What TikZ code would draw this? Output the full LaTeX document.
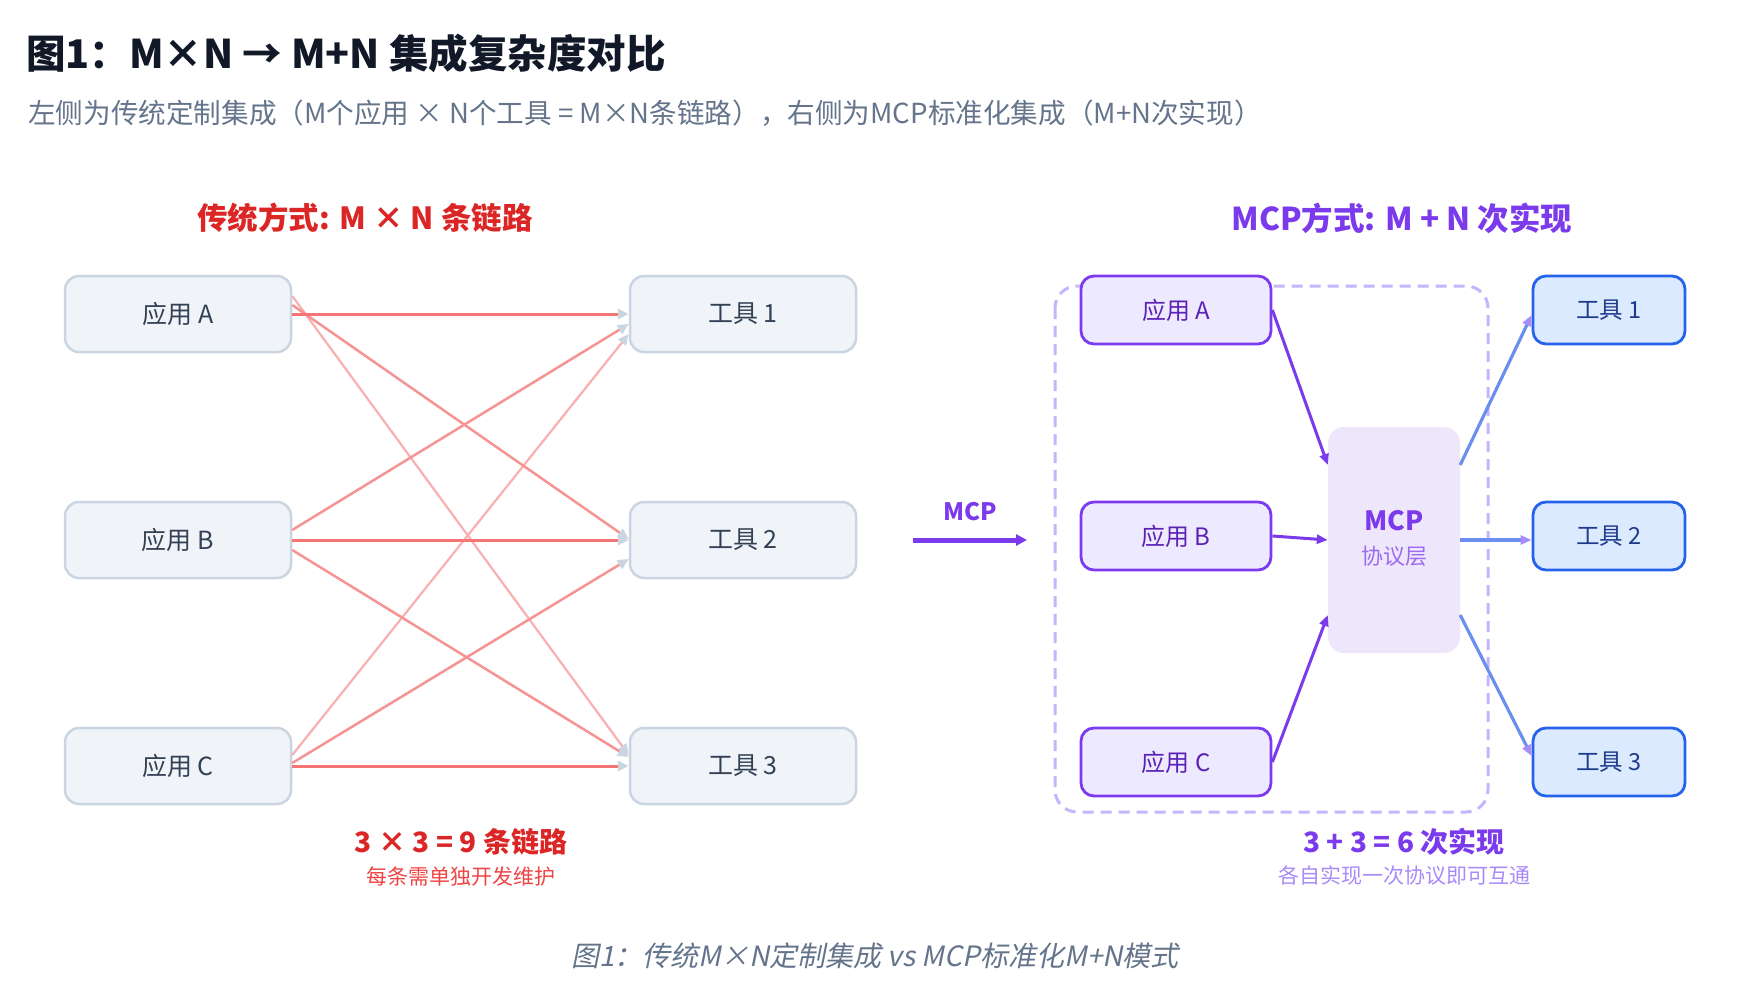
\documentclass[tikz,border=0pt]{standalone}
\usepackage{fontspec}
\setmainfont{Noto Sans CJK SC}[AutoFakeSlant=0.2]
\usetikzlibrary{arrows.meta,calc}
\definecolor{titlec}{HTML}{111827}
\definecolor{subc}{HTML}{64748B}
\definecolor{redh}{HTML}{DC2626}
\definecolor{redl}{HTML}{EF4444}
\definecolor{purp}{HTML}{7C3AED}
\definecolor{purpl}{HTML}{A78BFA}
\definecolor{purpd}{HTML}{C4B5FD}
\definecolor{purpf}{HTML}{EDE9FE}
\definecolor{mcpf}{HTML}{EEE6FB}
\definecolor{bluef}{HTML}{DBEAFE}
\definecolor{blueb}{HTML}{2563EB}
\definecolor{bluet}{HTML}{1E3A8A}
\definecolor{bluel}{HTML}{6A8FEE}
\definecolor{grayf}{HTML}{F0F4F9}
\definecolor{grayb}{HTML}{CBD5E1}
\definecolor{grayt}{HTML}{334155}
\definecolor{purpt}{HTML}{5B21B6}
\tikzset{
  fs/.style={font=\fontsize{#1}{#1}\selectfont},
  oldbox/.style={draw=grayb, fill=grayf, line width=2.5pt, rounded corners=14pt,
    minimum width=226pt, minimum height=76pt, inner sep=0pt, text=grayt, fs=25},
  appbox/.style={draw=purp, fill=purpf, line width=2.8pt, rounded corners=13pt,
    minimum width=190pt, minimum height=68pt, inner sep=0pt, text=purpt, fs=24},
  toolbox/.style={draw=blueb, fill=bluef, line width=2.8pt, rounded corners=13pt,
    minimum width=152pt, minimum height=68pt, inner sep=0pt, text=bluet, fs=23.5},
  gtip/.style={-{Triangle[length=11pt,width=10pt,color=grayb]}},
  lnA/.style={gtip, draw=redl!74!white, line width=3pt},
  lnB/.style={gtip, draw=redl!58!white, line width=2.5pt},
  lnC/.style={gtip, draw=redl!42!white, line width=2.2pt},
  parr/.style={draw=purp, line width=3pt, -{Triangle[length=11pt,width=9pt]}},
  barr/.style={draw=bluel, line width=3.2pt, -{Triangle[length=11pt,width=9pt,color=purpl]}},
}
\begin{document}
\begin{tikzpicture}[x=1pt,y=-1pt]
\useasboundingbox[fill=white] (0,0) rectangle (1746,1006);

% titles
\node[anchor=west, text=titlec, fs=39.5, inner sep=0pt] (title) at (26,53) {\bfseries 图1：M×N → M+N 集成复杂度对比};
\node[anchor=west, text=subc, fs=27.6, inner sep=0pt] (sub) at (28,113) {左侧为传统定制集成（M个应用 × N个工具 = M×N条链路），右侧为MCP标准化集成（M+N次实现）};

\node[text=redh, fs=30.5] (lhead) at (365,218) {\bfseries 传统方式: M × N 条链路};
\node[text=purp, fs=31.5] (rhead) at (1402,218) {\bfseries MCP方式: M + N 次实现};

% left boxes
\node[oldbox] (a1) at (178,314) {应用 A};
\node[oldbox] (a2) at (178,540) {应用 B};
\node[oldbox] (a3) at (178,766) {应用 C};
\node[oldbox] (t1) at (743,314) {工具 1};
\node[oldbox] (t2) at (743,540) {工具 2};
\node[oldbox] (t3) at (743,766) {工具 3};

% left connectors
\draw[lnC] ($(a1.east)+(0,-18)$) -- ($(t3.west)+(0,-11)$);
\draw[lnC] ($(a3.east)+(0,-11)$) -- ($(t1.west)+(0,20)$);
\draw[lnB] ($(a1.east)+(0,-9)$) -- ($(t2.west)+(0,-1)$);
\draw[lnB] ($(a2.east)+(0,-10)$) -- ($(t1.west)+(0,10)$);
\draw[lnB] ($(a2.east)+(0,10)$) -- ($(t3.west)+(0,-9)$);
\draw[lnB] ($(a3.east)+(0,-3)$) -- ($(t2.west)+(0,19)$);
\draw[lnA] (a1.east) -- (t1.west);
\draw[lnA] (a2.east) -- (t2.west);
\draw[lnA] (a3.east) -- (t3.west);

\node[text=redh, fs=28] (lsum) at (461,842) {\bfseries 3 × 3 = 9 条链路};
\node[text=redl, fs=21] (lsub) at (461,876) {每条需单独开发维护};

% middle arrow
\node[text=purp, fs=24] (mcplab) at (970,512) {\bfseries MCP};
\coordinate (m1) at (913,540);
\coordinate (m2) at (1027,540);
\draw[draw=purp, line width=5pt, -{Triangle[length=11pt,width=11pt]}] (m1) -- (m2);

% right side
\draw[draw=purpd, line width=3pt, dash pattern=on 11pt off 7pt, rounded corners=22pt] (1055,286) rectangle (1488,812);
\node[fill=mcpf, rounded corners=16pt, minimum width=132pt, minimum height=226pt, inner sep=0pt] (mcp) at (1394,540) {};
\node[text=purp, fs=26.5] (mcpt) at (1394,521) {\bfseries MCP};
\node[text=purp!75!white, fs=22] (mcps) at (1394,556) {协议层};

\node[appbox] (b1) at (1176,310) {应用 A};
\node[appbox] (b2) at (1176,536) {应用 B};
\node[appbox] (b3) at (1176,762) {应用 C};
\node[toolbox] (u1) at (1609,310) {工具 1};
\node[toolbox] (u2) at (1609,536) {工具 2};
\node[toolbox] (u3) at (1609,762) {工具 3};

\draw[parr] (b1.east) -- ($(mcp.west)+(0,-75)$);
\draw[parr] (b2.east) -- ($(mcp.west)+(0,0)$);
\draw[parr] (b3.east) -- ($(mcp.west)+(0,75)$);
\draw[barr] ($(mcp.east)+(0,-75)$) -- ($(u1.west)+(0,5)$);
\draw[barr] ($(mcp.east)+(0,0)$) -- ($(u2.west)+(0,4)$);
\draw[barr] ($(mcp.east)+(0,75)$) -- ($(u3.west)+(0,-6)$);

\node[text=purp, fs=28] (rsum) at (1404,842) {\bfseries 3 + 3 = 6 次实现};
\node[text=purpl, fs=21] (rsub) at (1404,876) {各自实现一次协议即可互通};

\node[text=subc, fs=28] (cap) at (875,956) {\itshape 图1：传统M×N定制集成 vs MCP标准化M+N模式};
\end{tikzpicture}
\end{document}
